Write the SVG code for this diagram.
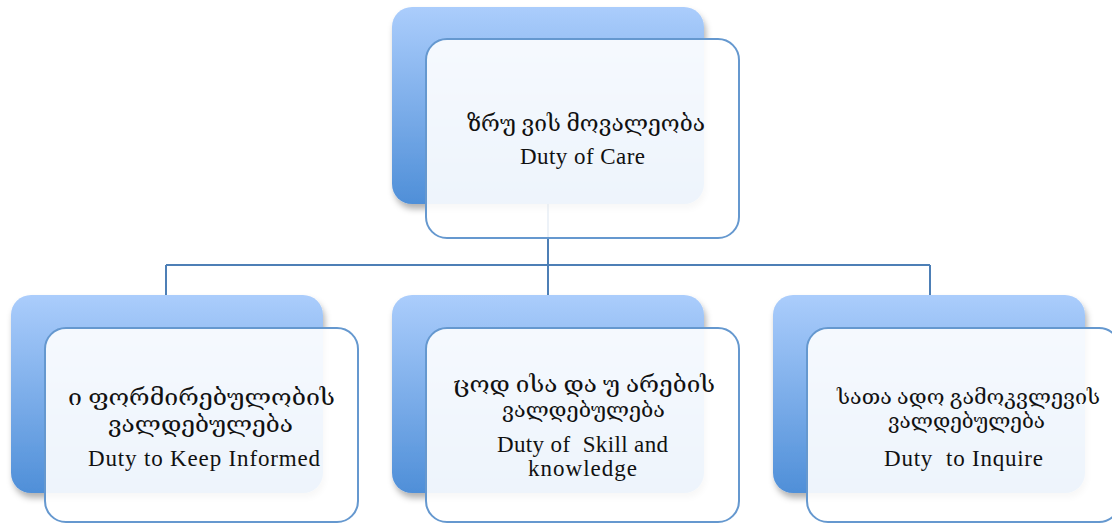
<svg xmlns="http://www.w3.org/2000/svg" width="1112" height="524" viewBox="0 0 1112 524">
<defs>
<linearGradient id="bg" x1="0" y1="0" x2="0" y2="1">
<stop offset="0" stop-color="#abcdfc"/>
<stop offset="1" stop-color="#4f8fd8"/>
</linearGradient>
<filter id="sh" x="-10%" y="-10%" width="125%" height="130%">
<feDropShadow dx="2" dy="5" stdDeviation="3" flood-color="#000" flood-opacity="0.3"/>
</filter>
<style>
.back{fill:url(#bg);filter:url(#sh);}
.front{fill:#ffffff;fill-opacity:0.9;stroke:#6598cf;stroke-width:2;}
.conn{fill:none;stroke:#4d7fb6;stroke-width:2;}
.t{font-family:"Liberation Serif","DejaVu Serif","DejaVu Sans",serif;fill:#111;text-anchor:middle;}
.lat{font-size:23px;}
.geo{font-size:22px;}
.geo2{font-size:20px;}
</style>
</defs>
<rect width="1112" height="524" fill="#ffffff"/>
<g id="connectors">
<path class="conn" d="M548,204 V265 M166,265 H930 M166,265 V296 M548,265 V296 M930,265 V296"/>
</g>
<g id="node-top">
<rect class="back" x="392" y="7" width="312" height="197" rx="20"/>
<rect class="front" x="426" y="39" width="313" height="199" rx="21"/>
<text class="t geo" x="586" y="131" textLength="238" lengthAdjust="spacingAndGlyphs" xml:space="preserve">ზრუ ვის მოვალეობა</text>
<text class="t lat" x="582.5" y="164" textLength="125">Duty of Care</text>
</g>
<g id="node-inform">
<rect class="back" x="11" y="295" width="312" height="198" rx="20"/>
<rect class="front" x="45" y="328" width="313" height="194" rx="21"/>
<text class="t geo" x="201.5" y="405" textLength="267" lengthAdjust="spacingAndGlyphs" xml:space="preserve">ი ფორმირებულობის</text>
<text class="t geo" x="200.5" y="432" textLength="185" lengthAdjust="spacingAndGlyphs">ვალდებულება</text>
<text class="t lat" x="204" y="466" textLength="232">Duty to Keep Informed</text>
</g>
<g id="node-skill">
<rect class="back" x="392" y="295" width="312" height="198" rx="20"/>
<rect class="front" x="426" y="328" width="313" height="194" rx="21"/>
<text class="t geo" x="584" y="392" textLength="262" lengthAdjust="spacingAndGlyphs" xml:space="preserve">ცოდ ისა და უ არების</text>
<text class="t geo2" x="583.5" y="417" textLength="163" lengthAdjust="spacingAndGlyphs">ვალდებულება</text>
<text class="t lat" x="582.5" y="452" textLength="171" xml:space="preserve">Duty of  Skill and</text>
<text class="t lat" x="582.5" y="476" textLength="109">knowledge</text>
</g>
<g id="node-inquire">
<rect class="back" x="773" y="295" width="312" height="198" rx="20"/>
<rect class="front" x="807" y="328" width="313" height="194" rx="21"/>
<text class="t geo2" x="968.5" y="404" textLength="263" lengthAdjust="spacingAndGlyphs" xml:space="preserve">სათა ადო გამოკვლევის</text>
<text class="t geo2" x="966.5" y="428" textLength="157" lengthAdjust="spacingAndGlyphs">ვალდებულება</text>
<text class="t lat" x="963.5" y="466" textLength="159" xml:space="preserve">Duty  to Inquire</text>
</g>
</svg>
